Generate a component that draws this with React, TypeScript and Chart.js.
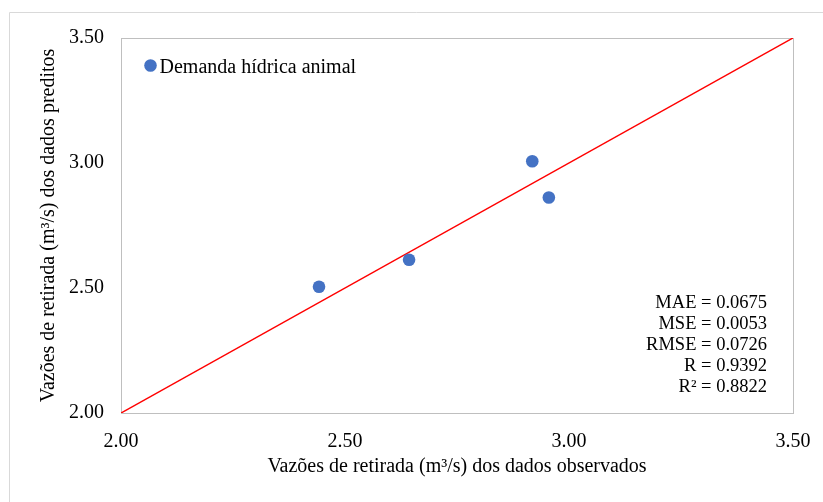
import React, { useEffect, useRef } from "react";
import { Chart, registerables } from "chart.js";

Chart.register(...registerables);

const seriesName = "Demanda hídrica animal";
const observed = [2.442, 2.643, 2.918, 2.955];
const predicted = [2.505, 2.613, 3.007, 2.862];
const refLineX = [2.0, 3.5];
const refLineY = [2.0, 3.5];
const statsLines = ["MAE = 0.0675", "MSE = 0.0053", "RMSE = 0.0726", "R = 0.9392", "R² = 0.8822"];
const xTitle = "Vazões de retirada (m³/s) dos dados observados";
const yTitle = "Vazões de retirada (m³/s) dos dados preditos";

const FONT = "'Liberation Serif', 'Times New Roman', serif";
const POINT_COLOR = "#4472C4";

const decorPlugin = {
  id: "decor",
  beforeDraw(chart: any) {
    const { ctx, chartArea } = chart;
    ctx.save();
    ctx.strokeStyle = "#d9d9d9";
    ctx.lineWidth = 1;
    ctx.beginPath();
    ctx.moveTo(9.5, 502);
    ctx.lineTo(9.5, 12.5);
    ctx.lineTo(823, 12.5);
    ctx.stroke();
    ctx.strokeStyle = "#bfbfbf";
    ctx.strokeRect(
      Math.round(chartArea.left) + 0.5,
      Math.round(chartArea.top) + 0.5,
      Math.round(chartArea.right - chartArea.left),
      Math.round(chartArea.bottom - chartArea.top)
    );
    ctx.restore();
  },
  afterDraw(chart: any) {
    const { ctx } = chart;
    ctx.save();
    // legend
    ctx.fillStyle = POINT_COLOR;
    ctx.beginPath();
    ctx.arc(150.5, 65.5, 6.3, 0, Math.PI * 2);
    ctx.fill();
    ctx.fillStyle = "#000";
    ctx.font = `20px ${FONT}`;
    ctx.textAlign = "left";
    ctx.textBaseline = "alphabetic";
    ctx.fillText(seriesName, 159.5, 73);
    // stats
    ctx.font = `18.5px ${FONT}`;
    ctx.textAlign = "right";
    statsLines.forEach((s, i) => {
      ctx.fillText(s, 767, 307.5 + i * 21.2);
    });
    ctx.restore();
  },
};

export default function App() {
  const ref = useRef<HTMLCanvasElement>(null);
  useEffect(() => {
    if (!ref.current) return;
    const chart = new Chart(ref.current, {
      type: "scatter",
      data: {
        datasets: [
          {
            label: seriesName,
            data: observed.map((x, i) => ({ x, y: predicted[i] })),
            backgroundColor: POINT_COLOR,
            borderWidth: 0,
            pointRadius: 6.3,
            pointHoverRadius: 6.3,
          },
          {
            label: "1:1",
            data: refLineX.map((x, i) => ({ x, y: refLineY[i] })),
            showLine: true,
            borderColor: "#FF0000",
            borderWidth: 1.5,
            pointRadius: 0,
            fill: false,
          },
        ],
      },
      options: {
        animation: false,
        responsive: false,
        maintainAspectRatio: false,
        layout: { padding: { left: 0, top: 38, right: 30, bottom: 0 } },
        plugins: { legend: { display: false }, tooltip: { enabled: false } },
        scales: {
          x: {
            type: "linear",
            min: 2.0,
            max: 3.5,
            afterFit: (s: any) => {
              s.height = 89;
              s.paddingLeft = 0;
              s.paddingRight = 0;
            },
            grid: { display: false, drawTicks: false },
            border: { display: false },
            ticks: {
              stepSize: 0.5,
              padding: 17,
              color: "#000",
              font: { family: FONT, size: 20 },
              callback: (v: any) => Number(v).toFixed(2),
            },
            title: {
              display: true,
              text: xTitle,
              color: "#000",
              font: { family: FONT, size: 20 },
              padding: { top: 0, bottom: 23 },
            },
          },
          y: {
            type: "linear",
            min: 2.0,
            max: 3.5,
            afterFit: (s: any) => {
              s.width = 121;
              s.paddingTop = 0;
              s.paddingBottom = 0;
            },
            grid: { display: false, drawTicks: false },
            border: { display: false },
            ticks: {
              stepSize: 0.5,
              padding: 17,
              color: "#000",
              font: { family: FONT, size: 20 },
              callback: (v: any) => Number(v).toFixed(2),
            },
            title: {
              display: true,
              text: yTitle,
              color: "#000",
              font: { family: FONT, size: 20 },
              padding: { top: 37, bottom: 0 },
            },
          },
        },
      },
      plugins: [decorPlugin],
    });
    return () => chart.destroy();
  }, []);
  return (
    <div style={{ position: "fixed", left: 0, top: 0, width: 823, height: 502, background: "#fff" }}>
      <canvas ref={ref} width={823} height={502} style={{ width: 823, height: 502 }} />
    </div>
  );
}
